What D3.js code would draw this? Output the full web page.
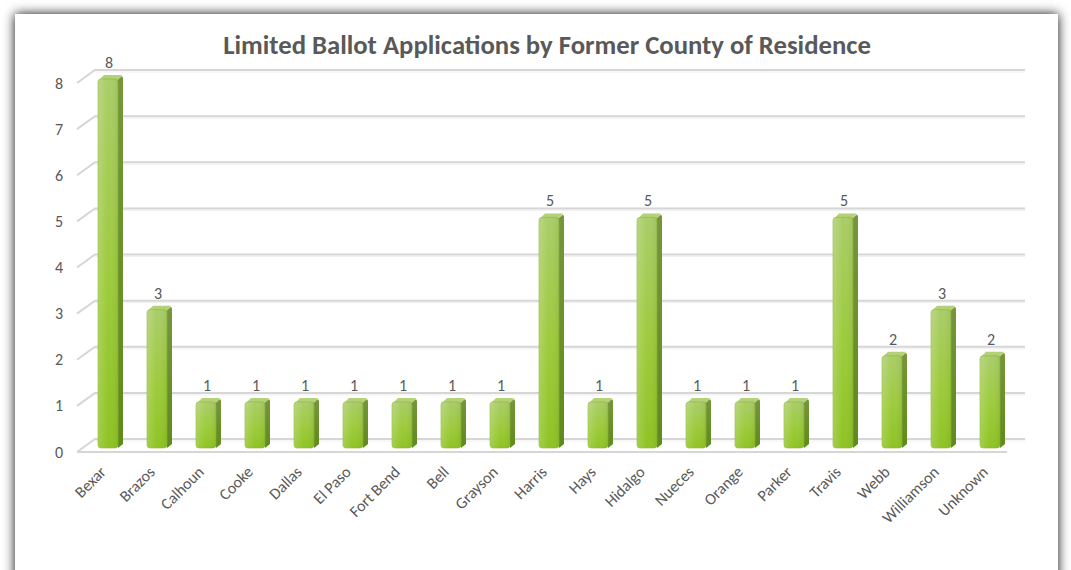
<!DOCTYPE html>
<html><head><meta charset="utf-8">
<script src="https://cdn.jsdelivr.net/npm/d3@7"></script>
<style>html,body{margin:0;padding:0;background:#fff;overflow:hidden}</style>
</head><body>
<svg id="c" width="1071" height="570"></svg>
<script>
const categories = ["Bexar","Brazos","Calhoun","Cooke","Dallas","El Paso","Fort Bend","Bell","Grayson","Harris","Hays","Hidalgo","Nueces","Orange","Parker","Travis","Webb","Williamson","Unknown"];
const values = [8,3,1,1,1,1,1,1,1,5,1,5,1,1,1,5,2,3,2];
const yTicks = [0,1,2,3,4,5,6,7,8];
const title = "Limited Ballot Applications by Former County of Residence";

const svg = d3.select("#c");
const defs = svg.append("defs");

// frame shadow
const f = defs.append("filter").attr("id","sh").attr("x","-5%").attr("y","-5%").attr("width","110%").attr("height","110%");
f.append("feDropShadow").attr("dx",0).attr("dy",0).attr("stdDeviation",6).attr("flood-color","#000").attr("flood-opacity",0.95);
svg.append("rect").attr("x",15).attr("y",14).attr("width",1043).attr("height",620)
  .attr("fill","#fff").attr("filter","url(#sh)");

const gFront = defs.append("linearGradient").attr("id","gf").attr("x1",0).attr("y1",0).attr("x2",0).attr("y2",1);
gFront.append("stop").attr("offset","0%").attr("stop-color","#aacd68");
gFront.append("stop").attr("offset","55%").attr("stop-color","#9dcb3c");
gFront.append("stop").attr("offset","100%").attr("stop-color","#8fc324");
const gH = defs.append("linearGradient").attr("id","gh").attr("x1",0).attr("y1",0).attr("x2",1).attr("y2",0);
gH.append("stop").attr("offset","0%").attr("stop-color","#ffffff").attr("stop-opacity",0.18);
gH.append("stop").attr("offset","50%").attr("stop-color","#ffffff").attr("stop-opacity",0);
gH.append("stop").attr("offset","100%").attr("stop-color","#000000").attr("stop-opacity",0.06);
const gSide = defs.append("linearGradient").attr("id","gs").attr("x1",0).attr("y1",0).attr("x2",0).attr("y2",1);
gSide.append("stop").attr("offset","0%").attr("stop-color","#76963a");
gSide.append("stop").attr("offset","100%").attr("stop-color","#5f8a1c");

const DX = 18, DY = 13;           // wall depth projection
const x = d3.scalePoint().domain(categories).range([83.5,1014.5]).padding(0.5);
const yBack = d3.scaleLinear().domain([0,8]).range([439,70]);
const yBar = d3.scaleLinear().domain([0,8]).range([448,79]);
const txt = "#595959";
const font = "Carlito, Calibri, 'Liberation Sans', Arial, sans-serif";

// gridlines (back wall + left side diagonal)
const grid = svg.append("g");
yTicks.forEach(t => {
  const yy = yBack(t);
  grid.append("path")
    .attr("d", `M${95-DX},${yy+DY}L95,${yy}L1025,${yy}`)
    .attr("fill","none").attr("stroke","#d6d6d6").attr("stroke-width",2);
  grid.append("path")
    .attr("d", `M95,${yy+2}L1025,${yy+2}`)
    .attr("fill","none").attr("stroke","#efefef").attr("stroke-width",1);
});
// floor front edge
grid.append("path").attr("d",`M${95-DX},${yBack(0)+DY}L${1025-DX},${yBack(0)+DY}`)
  .attr("stroke","#d6d6d6").attr("stroke-width",2).attr("fill","none");

// y labels
svg.append("g").selectAll("text").data(yTicks).join("text")
  .attr("x",63).attr("y",d=>yBack(d)+DY).attr("dy","0.35em")
  .attr("text-anchor","end").attr("fill",txt).attr("font-family",font).attr("font-size",16)
  .text(d=>d);

// bars
const W = 20, bd = 5, bh = 4, r = 3;
const bars = svg.append("g").selectAll("g").data(categories.map((c,i)=>({c,v:values[i]}))).join("g");
bars.append("path").attr("fill","url(#gs)")
  .attr("d", d => { const cx=x(d.c), t=yBar(d.v), b=yBar(0);
    return `M${cx+W/2-1},${t+1}L${cx+W/2+bd-1},${t-bh+1}L${cx+W/2+bd},${t-bh+3}L${cx+W/2+bd},${b-bh}L${cx+W/2},${b}Z`; });
bars.append("path").attr("fill","#b3d277")
  .attr("d", d => { const cx=x(d.c), t=yBar(d.v);
    return `M${cx-W/2+1},${t+1}L${cx-W/2+bd+1},${t-bh}L${cx+W/2+bd-1},${t-bh}L${cx+W/2},${t+1}Z`; });
bars.append("rect").attr("fill","url(#gf)")
  .attr("x",d=>x(d.c)-W/2).attr("width",W).attr("y",d=>yBar(d.v)).attr("height",d=>yBar(0)-yBar(d.v))
  .attr("rx",r).attr("stroke","#8cb73a").attr("stroke-width",0.6);
bars.append("rect").attr("fill","url(#gh)")
  .attr("x",d=>x(d.c)-W/2).attr("width",W).attr("y",d=>yBar(d.v)).attr("height",d=>yBar(0)-yBar(d.v)).attr("rx",r);

// data labels
bars.append("text").attr("x",d=>x(d.c)+1).attr("y",d=>yBar(d.v)-11)
  .attr("text-anchor","middle").attr("fill",txt).attr("font-family",font).attr("font-size",16)
  .text(d=>d.v);

// x labels
svg.append("g").selectAll("text").data(categories).join("text")
  .attr("transform",d=>`translate(${x(d)-5},${469}) rotate(-45)`)
  .attr("text-anchor","end").attr("dy","0.35em").attr("fill",txt).attr("font-family",font).attr("font-size",16)
  .text(d=>d);

// title
const tt = svg.append("text").attr("x",547).attr("y",54).attr("text-anchor","middle")
  .attr("fill",txt).attr("font-family",font).attr("font-weight","bold").attr("font-size",20).text(title);
const w = tt.node().getComputedTextLength();
tt.attr("font-size", Math.max(16, Math.min(28, 20*648/w)));
</script>
</body></html>
